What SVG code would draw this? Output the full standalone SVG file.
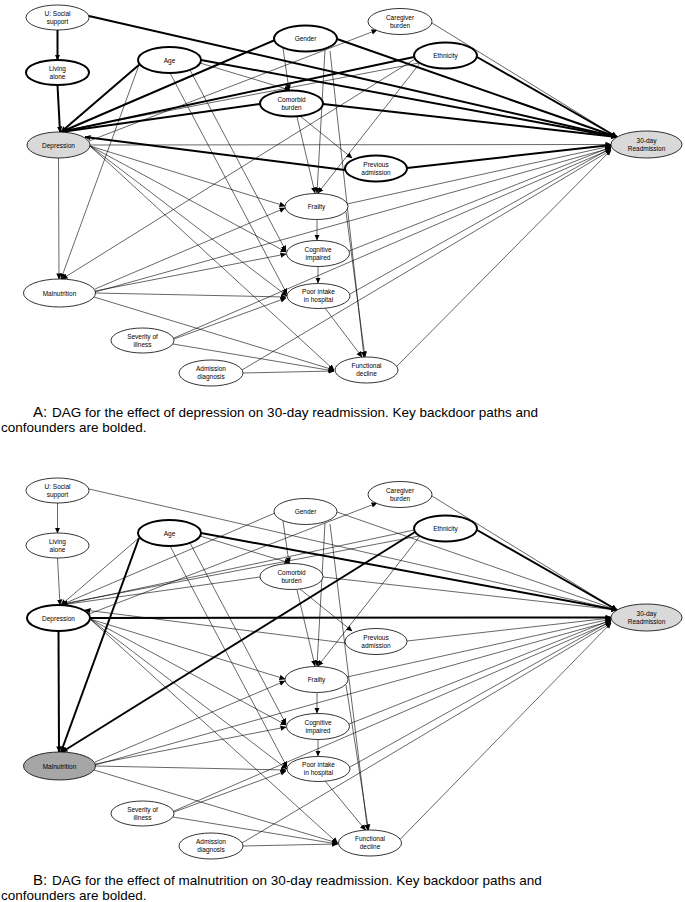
<svg xmlns="http://www.w3.org/2000/svg" width="685" height="902" viewBox="0 0 685 902">
<defs>
<marker id="ah" markerUnits="userSpaceOnUse" markerWidth="6" markerHeight="6" refX="5.5" refY="3" orient="auto"><path d="M0,0.3 L6,3 L0,5.7 z" fill="#000"/></marker>
<style>
.e{stroke:#000;stroke-width:0.6;fill:none;marker-end:url(#ah)}
.b{stroke:#000;stroke-width:2;fill:none;marker-end:url(#ah)}
.n{fill:#fff;stroke:#000;stroke-width:0.8}
.nb{fill:#fff;stroke:#000;stroke-width:2}
.g1{fill:#d9d9d9}
.g2{fill:#a6a6a6}
.t{font-family:"Liberation Sans",Arial,sans-serif;font-size:6.5px;text-anchor:middle;fill:#000}
.cap{font-family:"Liberation Sans",Arial,sans-serif;font-size:13.5px;fill:#000}
.capL{font-size:15px}
</style>
</defs>
<rect width="685" height="902" fill="#fff"/>
<!-- PANEL A -->
<g id="edgesA">
<line class="b" x1="57.5" y1="30" x2="57.5" y2="60"/>
<line class="b" x1="89" y1="16" x2="617" y2="137"/>
<line class="b" x1="57.5" y1="85" x2="60" y2="132"/>
<line class="b" x1="140" y1="64" x2="61" y2="132"/>
<line class="b" x1="275" y1="40" x2="61" y2="132"/>
<line class="b" x1="414" y1="57" x2="61" y2="132"/>
<line class="e" x1="419" y1="63" x2="62" y2="131"/>
<line class="b" x1="260" y1="104" x2="61" y2="132"/>
<line class="b" x1="345" y1="170" x2="85" y2="137"/>
<line class="e" x1="89" y1="141" x2="377" y2="30"/>
<line class="e" x1="90" y1="145" x2="611" y2="144.5"/>
<line class="e" x1="58.5" y1="158" x2="59" y2="279"/>
<line class="e" x1="90" y1="146" x2="285" y2="206"/>
<line class="e" x1="90" y1="146" x2="286" y2="252"/>
<line class="e" x1="90" y1="146" x2="287" y2="296"/>
<line class="e" x1="90" y1="146" x2="334" y2="370"/>
<line class="e" x1="139" y1="65" x2="61" y2="279"/>
<line class="b" x1="201" y1="60" x2="617" y2="137"/>
<line class="e" x1="200" y1="63" x2="290" y2="90"/>
<line class="e" x1="190" y1="70" x2="286" y2="251"/>
<line class="e" x1="170" y1="73" x2="287" y2="294"/>
<line class="e" x1="283" y1="48" x2="289" y2="90"/>
<line class="e" x1="325" y1="50" x2="317" y2="193"/>
<line class="b" x1="337" y1="39" x2="617" y2="137"/>
<line class="e" x1="330" y1="51" x2="364" y2="357"/>
<line class="b" x1="477" y1="57" x2="617" y2="137"/>
<line class="e" x1="415" y1="59" x2="62" y2="279"/>
<line class="e" x1="420" y1="63" x2="318" y2="193"/>
<line class="e" x1="432" y1="23" x2="617" y2="137"/>
<line class="b" x1="323" y1="104" x2="617" y2="137"/>
<line class="e" x1="300" y1="116" x2="352" y2="158"/>
<line class="e" x1="297" y1="117" x2="315" y2="193"/>
<line class="b" x1="407" y1="168" x2="611" y2="145"/>
<line class="e" x1="317" y1="220" x2="317" y2="240"/>
<line class="e" x1="346" y1="212" x2="365" y2="357"/>
<line class="e" x1="347" y1="204" x2="611" y2="146"/>
<line class="e" x1="318" y1="267" x2="318" y2="283"/>
<line class="e" x1="349" y1="251" x2="611" y2="147"/>
<line class="e" x1="350" y1="294" x2="611" y2="148"/>
<line class="e" x1="325" y1="308" x2="362" y2="357"/>
<line class="e" x1="95" y1="289" x2="285" y2="208"/>
<line class="e" x1="95" y1="291" x2="286" y2="254"/>
<line class="e" x1="95" y1="293" x2="286" y2="297"/>
<line class="e" x1="94" y1="297" x2="334" y2="370"/>
<line class="e" x1="95" y1="292" x2="611" y2="148"/>
<line class="e" x1="174" y1="339" x2="286" y2="298"/>
<line class="e" x1="173" y1="344" x2="334" y2="371"/>
<line class="e" x1="174" y1="338" x2="611" y2="149"/>
<line class="e" x1="243" y1="373" x2="334" y2="371"/>
<line class="e" x1="242" y1="370" x2="611" y2="150"/>
<line class="e" x1="397" y1="366" x2="611" y2="150"/>
</g>
<g id="A_U"><ellipse class="n" cx="57.5" cy="17.5" rx="31.5" ry="12.5"/><text class="t" x="57.5" y="15.5">U: Social</text><text class="t" x="57.5" y="23.5">support</text></g>
<g id="A_LA"><ellipse class="nb" cx="57.5" cy="72.5" rx="31.5" ry="12.5"/><text class="t" x="57.5" y="70.5">Living</text><text class="t" x="57.5" y="78.5">alone</text></g>
<g id="A_Dep"><ellipse class="n g1" cx="58.5" cy="145" rx="31.5" ry="13"/><text class="t" x="58.5" y="147.5">Depression</text></g>
<g id="A_Age"><ellipse class="nb" cx="169.5" cy="60" rx="31.5" ry="13"/><text class="t" x="169.5" y="62.5">Age</text></g>
<g id="A_Gen"><ellipse class="nb" cx="305.5" cy="38.5" rx="31.5" ry="13"/><text class="t" x="305.5" y="41">Gender</text></g>
<g id="A_Care"><ellipse class="n" cx="400" cy="21.5" rx="32" ry="13"/><text class="t" x="400" y="19.5">Caregiver</text><text class="t" x="400" y="27.5">burden</text></g>
<g id="A_Eth"><ellipse class="nb" cx="445.5" cy="55.5" rx="31.5" ry="13"/><text class="t" x="445.5" y="58">Ethnicity</text></g>
<g id="A_Com"><ellipse class="nb" cx="291.5" cy="103.5" rx="31.5" ry="13"/><text class="t" x="291.5" y="101.5">Comorbid</text><text class="t" x="291.5" y="109.5">burden</text></g>
<g id="A_Prev"><ellipse class="nb" cx="376" cy="168.5" rx="31" ry="13"/><text class="t" x="376" y="166.5">Previous</text><text class="t" x="376" y="174.5">admission</text></g>
<g id="A_Read"><ellipse class="n g1" cx="646.5" cy="144.5" rx="35.5" ry="13.5"/><text class="t" x="646.5" y="142.5">30-day</text><text class="t" x="646.5" y="150.5">Readmission</text></g>
<g id="A_Fr"><ellipse class="n" cx="316.5" cy="206.5" rx="31.5" ry="13"/><text class="t" x="316.5" y="209">Frailty</text></g>
<g id="A_Cog"><ellipse class="n" cx="318" cy="253.5" rx="31.5" ry="13"/><text class="t" x="318" y="251.5">Cognitive</text><text class="t" x="318" y="259.5">impaired</text></g>
<g id="A_Poor"><ellipse class="n" cx="318.5" cy="296" rx="31.5" ry="12.5"/><text class="t" x="318.5" y="294">Poor intake</text><text class="t" x="318.5" y="302">in hospital</text></g>
<g id="A_Mal"><ellipse class="n" cx="59.5" cy="293" rx="36" ry="14"/><text class="t" x="59.5" y="295.5">Malnutrition</text></g>
<g id="A_Sev"><ellipse class="n" cx="142.5" cy="340.5" rx="31.5" ry="12.5"/><text class="t" x="142.5" y="338.5">Severity of</text><text class="t" x="142.5" y="346.5">illness</text></g>
<g id="A_Adm"><ellipse class="n" cx="211" cy="373" rx="32" ry="13"/><text class="t" x="211" y="371">Admission</text><text class="t" x="211" y="379">diagnosis</text></g>
<g id="A_FD"><ellipse class="n" cx="366.5" cy="370" rx="31.5" ry="13"/><text class="t" x="366.5" y="368">Functional</text><text class="t" x="366.5" y="376">decline</text></g>
<text class="cap"><tspan class="capL" x="33" y="417">A:</tspan><tspan x="52" y="417">DAG for the effect of depression on 30-day readmission. Key backdoor paths and</tspan><tspan x="1" y="432">confounders are bolded.</tspan></text>
<!-- PANEL B -->
<g id="edgesB" transform="translate(0,473)">
<line class="e" x1="57.5" y1="30" x2="57.5" y2="60"/>
<line class="e" x1="89" y1="16" x2="617" y2="137"/>
<line class="e" x1="57.5" y1="85" x2="60" y2="132"/>
<line class="e" x1="140" y1="64" x2="61" y2="132"/>
<line class="e" x1="275" y1="40" x2="61" y2="132"/>
<line class="e" x1="414" y1="57" x2="61" y2="132"/>
<line class="e" x1="419" y1="63" x2="62" y2="131"/>
<line class="e" x1="260" y1="104" x2="61" y2="132"/>
<line class="e" x1="345" y1="170" x2="85" y2="137"/>
<line class="e" x1="89" y1="141" x2="377" y2="30"/>
<line class="b" x1="90" y1="145" x2="611" y2="144.5"/>
<line class="b" x1="58.5" y1="158" x2="59" y2="279"/>
<line class="e" x1="90" y1="146" x2="285" y2="206"/>
<line class="e" x1="90" y1="146" x2="286" y2="252"/>
<line class="e" x1="90" y1="146" x2="287" y2="296"/>
<line class="e" x1="90" y1="146" x2="337.5" y2="370"/>
<line class="b" x1="139" y1="65" x2="61" y2="279"/>
<line class="b" x1="201" y1="60" x2="617" y2="137"/>
<line class="e" x1="200" y1="63" x2="290" y2="90"/>
<line class="e" x1="190" y1="70" x2="286" y2="251"/>
<line class="e" x1="170" y1="73" x2="287" y2="294"/>
<line class="e" x1="283" y1="48" x2="289" y2="90"/>
<line class="e" x1="325" y1="50" x2="317" y2="193"/>
<line class="e" x1="337" y1="39" x2="617" y2="137"/>
<line class="e" x1="330" y1="51" x2="367.5" y2="357"/>
<line class="b" x1="477" y1="57" x2="617" y2="137"/>
<line class="b" x1="415" y1="59" x2="62" y2="279"/>
<line class="e" x1="420" y1="63" x2="318" y2="193"/>
<line class="e" x1="432" y1="23" x2="617" y2="137"/>
<line class="e" x1="323" y1="104" x2="617" y2="137"/>
<line class="e" x1="300" y1="116" x2="352" y2="158"/>
<line class="e" x1="297" y1="117" x2="315" y2="193"/>
<line class="e" x1="407" y1="168" x2="611" y2="145"/>
<line class="e" x1="317" y1="220" x2="317" y2="240"/>
<line class="e" x1="346" y1="212" x2="368.5" y2="357"/>
<line class="e" x1="347" y1="204" x2="611" y2="146"/>
<line class="e" x1="318" y1="267" x2="318" y2="283"/>
<line class="e" x1="349" y1="251" x2="611" y2="147"/>
<line class="e" x1="350" y1="294" x2="611" y2="148"/>
<line class="e" x1="325" y1="308" x2="365.5" y2="357"/>
<line class="e" x1="95" y1="289" x2="285" y2="208"/>
<line class="e" x1="95" y1="291" x2="286" y2="254"/>
<line class="e" x1="95" y1="293" x2="286" y2="297"/>
<line class="e" x1="94" y1="297" x2="337.5" y2="370"/>
<line class="e" x1="95" y1="292" x2="611" y2="148"/>
<line class="e" x1="174" y1="339" x2="286" y2="298"/>
<line class="e" x1="173" y1="344" x2="337.5" y2="371"/>
<line class="e" x1="174" y1="338" x2="611" y2="149"/>
<line class="e" x1="243" y1="373" x2="337.5" y2="371"/>
<line class="e" x1="242" y1="370" x2="611" y2="150"/>
<line class="e" x1="400.5" y1="366" x2="611" y2="150"/>
</g>
<g transform="translate(0,473)">
<g id="B_U"><ellipse class="n" cx="57.5" cy="17.5" rx="31.5" ry="12.5"/><text class="t" x="57.5" y="15.5">U: Social</text><text class="t" x="57.5" y="23.5">support</text></g>
<g id="B_LA"><ellipse class="n" cx="57.5" cy="72.5" rx="31.5" ry="12.5"/><text class="t" x="57.5" y="70.5">Living</text><text class="t" x="57.5" y="78.5">alone</text></g>
<g id="B_Dep"><ellipse class="nb" cx="58.5" cy="145" rx="31.5" ry="13"/><text class="t" x="58.5" y="147.5">Depression</text></g>
<g id="B_Age"><ellipse class="nb" cx="169.5" cy="60" rx="31.5" ry="13"/><text class="t" x="169.5" y="62.5">Age</text></g>
<g id="B_Gen"><ellipse class="n" cx="305.5" cy="38.5" rx="31.5" ry="13"/><text class="t" x="305.5" y="41">Gender</text></g>
<g id="B_Care"><ellipse class="n" cx="400" cy="21.5" rx="32" ry="13"/><text class="t" x="400" y="19.5">Caregiver</text><text class="t" x="400" y="27.5">burden</text></g>
<g id="B_Eth"><ellipse class="nb" cx="445.5" cy="55.5" rx="31.5" ry="13"/><text class="t" x="445.5" y="58">Ethnicity</text></g>
<g id="B_Com"><ellipse class="n" cx="291.5" cy="103.5" rx="31.5" ry="13"/><text class="t" x="291.5" y="101.5">Comorbid</text><text class="t" x="291.5" y="109.5">burden</text></g>
<g id="B_Prev"><ellipse class="n" cx="376" cy="168.5" rx="31" ry="13"/><text class="t" x="376" y="166.5">Previous</text><text class="t" x="376" y="174.5">admission</text></g>
<g id="B_Read"><ellipse class="n g1" cx="646.5" cy="144.5" rx="35.5" ry="13.5"/><text class="t" x="646.5" y="142.5">30-day</text><text class="t" x="646.5" y="150.5">Readmission</text></g>
<g id="B_Fr"><ellipse class="n" cx="316.5" cy="206.5" rx="31.5" ry="13"/><text class="t" x="316.5" y="209">Frailty</text></g>
<g id="B_Cog"><ellipse class="n" cx="318" cy="253.5" rx="31.5" ry="13"/><text class="t" x="318" y="251.5">Cognitive</text><text class="t" x="318" y="259.5">impaired</text></g>
<g id="B_Poor"><ellipse class="n" cx="318.5" cy="296" rx="31.5" ry="12.5"/><text class="t" x="318.5" y="294">Poor intake</text><text class="t" x="318.5" y="302">in hospital</text></g>
<g id="B_Mal"><ellipse class="n g2" cx="59.5" cy="293" rx="36" ry="14"/><text class="t" x="59.5" y="295.5">Malnutrition</text></g>
<g id="B_Sev"><ellipse class="n" cx="142.5" cy="340.5" rx="31.5" ry="12.5"/><text class="t" x="142.5" y="338.5">Severity of</text><text class="t" x="142.5" y="346.5">illness</text></g>
<g id="B_Adm"><ellipse class="n" cx="211" cy="373" rx="32" ry="13"/><text class="t" x="211" y="371">Admission</text><text class="t" x="211" y="379">diagnosis</text></g>
<g id="B_FD"><ellipse class="n" cx="370" cy="370" rx="31.5" ry="13"/><text class="t" x="370" y="368">Functional</text><text class="t" x="370" y="376">decline</text></g>
</g>
<text class="cap"><tspan class="capL" x="33" y="885">B:</tspan><tspan x="52" y="885">DAG for the effect of malnutrition on 30-day readmission. Key backdoor paths and</tspan><tspan x="1" y="899.5">confounders are bolded.</tspan></text>
</svg>
